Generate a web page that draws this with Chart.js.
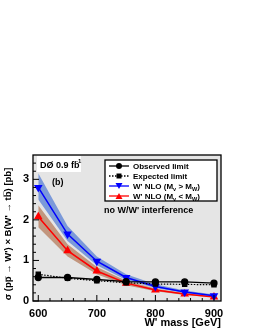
<!DOCTYPE html>
<html>
<head>
<meta charset="utf-8">
<script src="https://cdn.jsdelivr.net/npm/chart.js@4"></script>
<style>
  html, body { margin: 0; padding: 0; background: #fff; }
  #wrap { width: 264px; height: 329px; }
</style>
</head>
<body>
<div id="wrap"><canvas id="chart" width="264" height="329"></canvas></div>
<script>
const masses = [600, 650, 700, 750, 800, 850, 900];
const observed = [0.58, 0.58, 0.53, 0.48, 0.47, 0.47, 0.44];
const expected = [0.66, 0.56, 0.50, 0.45, 0.42, 0.41, 0.40];
const nloHeavy = [2.80, 1.65, 0.98, 0.58, 0.36, 0.22, 0.13];
const nloHeavyHi = [3.15, 1.85, 1.10, 0.66, 0.41, 0.26, 0.16];
const nloHeavyLo = [2.50, 1.48, 0.88, 0.52, 0.32, 0.20, 0.12];
const nloLight = [2.08, 1.24, 0.74, 0.44, 0.27, 0.17, 0.10];
const nloLightHi = [2.36, 1.40, 0.84, 0.50, 0.31, 0.19, 0.12];
const nloLightLo = [1.82, 1.10, 0.66, 0.39, 0.24, 0.15, 0.09];
const xTicks = [600, 700, 800, 900];
const yTicks = [0, 1, 2, 3];

const FONT = '"Liberation Sans", Arial, sans-serif';

function pts(vals) {
    return masses.map((m, i) => ({ x: m, y: vals[i] }));
}

// legend rows: [text pieces], pieces with sub:true are subscripts
const legendRows = [
    { parts: [{ t: 'Observed limit' }], color: '#000', dash: [], marker: 'circle' },
    { parts: [{ t: 'Expected limit' }], color: '#000', dash: [1.5, 1.5], marker: 'rect' },
    { parts: [{ t: "W' NLO (M" }, { t: 'v', sub: true }, { t: ' > M' }, { t: 'W', sub: true }, { t: ')' }], color: '#0000ff', dash: [], marker: 'down' },
    { parts: [{ t: "W' NLO (M" }, { t: 'v', sub: true }, { t: ' < M' }, { t: 'W', sub: true }, { t: ')' }], color: '#ff0000', dash: [], marker: 'up' }
];

function drawMarker(ctx, type, x, y, color) {
    ctx.save();
    ctx.fillStyle = color;
    ctx.beginPath();
    if (type === 'circle') {
        ctx.arc(x, y, 3, 0, Math.PI * 2);
    } else if (type === 'rect') {
        ctx.rect(x - 2.5, y - 2.5, 5, 5);
    } else if (type === 'down') {
        ctx.moveTo(x - 3.5, y - 3); ctx.lineTo(x + 3.5, y - 3); ctx.lineTo(x, y + 3);
    } else {
        ctx.moveTo(x - 3.5, y + 3); ctx.lineTo(x + 3.5, y + 3); ctx.lineTo(x, y - 3);
    }
    ctx.closePath();
    ctx.fill();
    ctx.restore();
}

const decorPlugin = {
    id: 'decor',
    beforeDraw(chart) {
        const { ctx, chartArea: a } = chart;
        ctx.save();
        ctx.fillStyle = '#e5e5e5';
        ctx.fillRect(a.left, a.top, a.right - a.left, a.bottom - a.top);
        ctx.restore();
    },
    afterDraw(chart) {
        const { ctx, chartArea: a, scales } = chart;
        const xs = scales.x, ys = scales.y;
        ctx.save();
        // frame
        ctx.strokeStyle = '#000';
        ctx.lineWidth = 1.3;
        ctx.strokeRect(a.left, a.top, a.right - a.left, a.bottom - a.top);
        // inward ticks
        ctx.lineWidth = 1;
        ctx.beginPath();
        for (let v = 600; v <= 900; v += 20) {
            const px = xs.getPixelForValue(v);
            const len = v % 100 === 0 ? 6 : 3;
            ctx.moveTo(px, a.bottom); ctx.lineTo(px, a.bottom - len);
        }
        for (let v = 0; v <= 3.6; v += 0.2) {
            const py = ys.getPixelForValue(v);
            const len = Math.abs(v - Math.round(v)) < 0.01 ? 6 : 3;
            ctx.moveTo(a.left, py); ctx.lineTo(a.left + len, py);
        }
        ctx.stroke();

        // axis titles
        ctx.fillStyle = '#000';
        ctx.font = 'bold 11px ' + FONT;
        ctx.textAlign = 'right';
        ctx.textBaseline = 'alphabetic';
        ctx.fillText("W' mass [GeV]", a.right, 326);

        ctx.save();
        ctx.translate(11, (a.top + a.bottom) / 2 + 6);
        ctx.rotate(-Math.PI / 2);
        ctx.font = 'bold 9.5px ' + FONT;
        ctx.textAlign = 'center';
        ctx.fillText('\u03c3 (pp\u0305 \u2192 W\') \u00d7 B(W\' \u2192 tb\u0305) [pb]', 0, 0);
        ctx.restore();

        // DØ label box
        ctx.fillStyle = '#fff';
        ctx.fillRect(37, 156, 44, 16);
        ctx.fillStyle = '#000';
        ctx.font = 'bold 9px ' + FONT;
        ctx.textAlign = 'left';
        ctx.fillText('D\u00d8 0.9 fb', 40, 168);
        ctx.font = 'bold 6px ' + FONT;
        ctx.fillText('-1', 76, 163);
        ctx.font = 'bold 9px ' + FONT;
        ctx.fillText('(b)', 52, 185);
        ctx.fillText("no W/W' interference", 104, 213);

        // legend
        const lx = 105, ly = 160, lw = 112, lh = 41;
        ctx.fillStyle = '#fff';
        ctx.fillRect(lx, ly, lw, lh);
        ctx.strokeStyle = '#000';
        ctx.lineWidth = 1.3;
        ctx.strokeRect(lx, ly, lw, lh);
        legendRows.forEach((row, i) => {
            const y = ly + 6 + i * 10;
            ctx.save();
            ctx.strokeStyle = row.color;
            ctx.lineWidth = 1.3;
            ctx.setLineDash(row.dash);
            ctx.beginPath();
            ctx.moveTo(lx + 4, y); ctx.lineTo(lx + 24, y);
            ctx.stroke();
            ctx.restore();
            drawMarker(ctx, row.marker, lx + 14, y, row.color);
            let tx = lx + 28;
            ctx.fillStyle = '#000';
            row.parts.forEach(p => {
                ctx.font = (p.sub ? 'bold 5.5px ' : 'bold 8px ') + FONT;
                ctx.fillText(p.t, tx, y + (p.sub ? 5 : 3));
                tx += ctx.measureText(p.t).width;
            });
        });
        ctx.restore();
    }
};

const ctx = document.getElementById('chart').getContext('2d');
new Chart(ctx, {
    type: 'line',
    data: {
        datasets: [
            { data: pts(nloHeavyLo), borderWidth: 0, pointRadius: 0, fill: false, order: 10 },
            { data: pts(nloHeavyHi), borderWidth: 0, pointRadius: 0, fill: '-1', backgroundColor: 'rgba(105,140,215,0.85)', order: 10 },
            { data: pts(nloLightLo), borderWidth: 0, pointRadius: 0, fill: false, order: 9 },
            { data: pts(nloLightHi), borderWidth: 0, pointRadius: 0, fill: '-1', backgroundColor: 'rgba(185,130,100,0.8)', order: 9 },
            { data: pts(nloLight), borderColor: '#ff0000', backgroundColor: '#ff0000', borderWidth: 1.5, pointStyle: 'triangle', pointRadius: 3.5, order: 4 },
            { data: pts(nloHeavy), borderColor: '#0000ff', backgroundColor: '#0000ff', borderWidth: 1.5, pointStyle: 'triangle', rotation: 180, pointRadius: 3.5, order: 3 },
            { data: pts(expected), borderColor: '#000', backgroundColor: '#000', borderWidth: 1.2, borderDash: [1.5, 1.5], pointStyle: 'rect', pointRadius: 3, order: 2 },
            { data: pts(observed), borderColor: '#000', backgroundColor: '#000', borderWidth: 1.3, pointStyle: 'circle', pointRadius: 3, order: 1 }
        ]
    },
    options: {
        responsive: false,
        animation: false,
        events: [],
        layout: { padding: { left: 0, top: 155, right: 43, bottom: 0 } },
        plugins: { legend: { display: false }, tooltip: { enabled: false }, filler: { propagate: false } },
        elements: { line: { tension: 0 }, point: { borderWidth: 0 } },
        scales: {
            x: {
                type: 'linear', min: 591, max: 912,
                afterFit: s => { s.height = 28; },
                afterBuildTicks: s => { s.ticks = xTicks.map(v => ({ value: v })); },
                grid: { display: false, drawTicks: false },
                border: { display: false },
                ticks: { color: '#000', font: { family: FONT, size: 11, weight: 'bold' }, padding: 6, maxRotation: 0 }
            },
            y: {
                min: 0, max: 3.6,
                afterFit: s => { s.width = 33; },
                afterBuildTicks: s => { s.ticks = yTicks.map(v => ({ value: v })); },
                grid: { display: false, drawTicks: false },
                border: { display: false },
                ticks: { color: '#000', font: { family: FONT, size: 11, weight: 'bold' }, padding: 4 }
            }
        }
    },
    plugins: [decorPlugin]
});
</script>
</body>
</html>
